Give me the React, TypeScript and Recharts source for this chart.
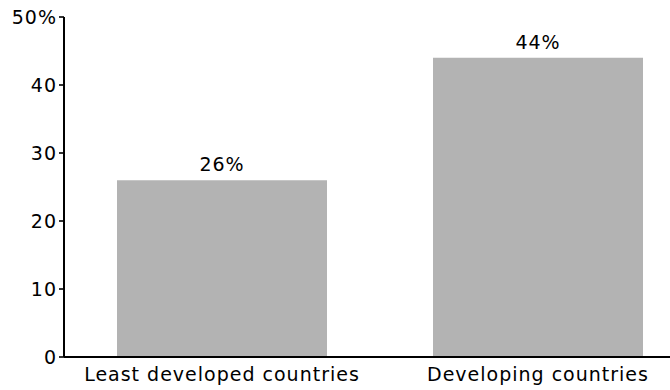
import { BarChart, Bar, XAxis, YAxis, LabelList } from 'recharts';

const categories = ['Least developed countries', 'Developing countries'];
const shares = [26, 44];
const yTicks = [0, 10, 20, 30, 40, 50];

const chartData = categories.map((name, i) => ({ name, value: shares[i] }));

const font = { fontFamily: '"DejaVu Sans", Verdana, sans-serif', fontSize: 19, letterSpacing: 1, fill: '#000' };

export default function App() {
  return (
    <div style={{ position: 'fixed', left: 0, top: 0, width: 670, height: 390, overflow: 'hidden', background: '#fff' }}>
      <BarChart width={700} height={390} data={chartData} margin={{ top: 17, right: 4, bottom: 0, left: 0 }}>
        <XAxis
          dataKey="name"
          height={33}
          tickLine={false}
          tickSize={0}
          tickMargin={11}
          axisLine={{ stroke: '#000', strokeWidth: 2 }}
          tick={font}
          interval={0}
        />
        <YAxis
          width={64}
          domain={[0, 50]}
          ticks={yTicks}
          tickSize={5}
          tickMargin={2}
          axisLine={{ stroke: '#000', strokeWidth: 2 }}
          tickLine={{ stroke: '#000', strokeWidth: 1.6 }}
          tick={font}
          tickFormatter={(v: number) => (v === 50 ? '50%' : String(v))}
        />
        <Bar dataKey="value" fill="#b3b3b3" barSize={210} isAnimationActive={false}>
          <LabelList
            dataKey="value"
            position="top"
            offset={9}
            formatter={(v: number) => `${v}%`}
            style={font}
          />
        </Bar>
      </BarChart>
    </div>
  );
}
